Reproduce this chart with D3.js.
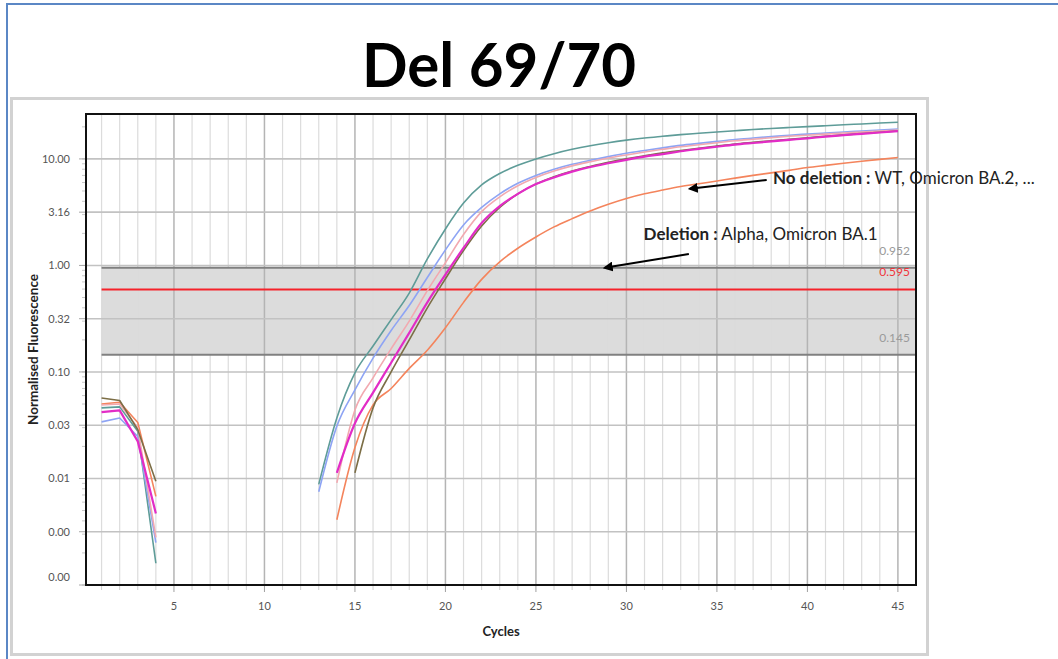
<!DOCTYPE html>
<html>
<head>
<meta charset="utf-8">
<script src="https://cdn.jsdelivr.net/npm/d3@7"></script>
<style>
  body { margin: 0; background: #fff; }
  svg { display: block; font-family: Lato, 'Open Sans', sans-serif; }
</style>
</head>
<body>
<div id="chart"></div>
<script>
// amplification cycles (early baseline part and late exponential part)
const earlyCycles = [1, 2, 3, 4];
const lateCycles = [13, 14, 15, 16, 17, 18, 19, 20, 21, 22, 23, 24, 25, 26, 27, 28, 29,
  30, 31, 32, 33, 34, 35, 36, 37, 38, 39, 40, 41, 42, 43, 44, 45];

// normalised fluorescence per sample
const tealEarly = [0.046, 0.047, 0.0277, 0.0016];
const tealLate = [0.0088, 0.037, 0.098, 0.175, 0.31, 0.55, 1.15, 2.2, 3.85, 5.7, 7.3, 8.7,
  10.0, 11.2, 12.3, 13.3, 14.2, 15.0, 15.7, 16.3, 16.9, 17.4, 17.9, 18.4, 18.9, 19.3, 19.7,
  20.1, 20.5, 20.9, 21.3, 21.7, 22.1];

const blueEarly = [0.034, 0.037, 0.0248, 0.0025];
const blueLate = [0.0075, 0.031, 0.068, 0.135, 0.245, 0.42, 0.77, 1.4, 2.4, 3.5, 4.7, 5.9,
  7.0, 8.0, 8.9, 9.7, 10.5, 11.3, 12.0, 12.7, 13.4, 14.0, 14.6, 15.2, 15.7, 16.2, 16.7,
  17.1, 17.5, 17.9, 18.3, 18.7, 19.1];

const pinkEarly = [0.049, 0.050, 0.030, 0.0028];
const pinkLate = [null, 0.0091, 0.044, 0.088, 0.165, 0.3, 0.58, 1.06, 1.95, 3.2, 4.4, 5.6,
  6.7, 7.7, 8.6, 9.4, 10.2, 10.9, 11.6, 12.3, 13.0, 13.6, 14.2, 14.8, 15.3, 15.8, 16.3,
  16.7, 17.1, 17.5, 17.9, 18.3, 18.7];

const magentaEarly = [0.042, 0.0436, 0.0223, 0.0047];
const magentaLate = [null, 0.0113, 0.033, 0.064, 0.122, 0.233, 0.45, 0.82, 1.46, 2.5, 3.6,
  4.7, 5.8, 6.7, 7.6, 8.4, 9.1, 9.8, 10.5, 11.1, 11.8, 12.4, 13.0, 13.6, 14.1, 14.6, 15.1,
  15.6, 16.2, 16.7, 17.2, 17.7, 18.2];

const oliveEarly = [0.057, 0.054, 0.0287, 0.0094];
const oliveLate = [null, null, 0.0113, 0.046, 0.1, 0.2, 0.4, 0.75, 1.38, 2.35, 3.5, 4.7,
  5.8, 6.8, 7.7, 8.5, 9.3, 10.0, 10.7, 11.4, 12.0, 12.6, 13.2, 13.8, 14.3, 14.8, 15.3,
  15.8, 16.3, 16.8, 17.3, 17.8, 18.3];

const orangeEarly = [0.050, 0.052, 0.0336, 0.0068];
const orangeLate = [null, 0.0041, 0.0195, 0.049, 0.07, 0.108, 0.16, 0.26, 0.45, 0.74, 1.08,
  1.45, 1.85, 2.3, 2.75, 3.25, 3.75, 4.25, 4.7, 5.1, 5.5, 5.85, 6.2, 6.6, 7.0, 7.4, 7.8,
  8.3, 8.7, 9.1, 9.5, 9.9, 10.3];

// thresholds shown on the plot
const thresholdLow = 0.145;
const thresholdHigh = 0.952;
const thresholdCt = 0.595;

// axis ticks
const xTickValues = [5, 10, 15, 20, 25, 30, 35, 40, 45];
const yTickValues = [10, 3.1623, 1, 0.31623, 0.1, 0.031623, 0.01, 0.0031623, 0.001];

// annotations: label text position and arrow ends, in cycles / fluorescence
const annotations = [
  {bold: 'No deletion :', rest: ' WT, Omicron BA.2, ...', tx: 38.1, tv: 5.85,
    from: [37.75, 6.35], to: [33.5, 5.25]},
  {bold: 'Deletion :', rest: ' Alpha, Omicron BA.1', tx: 30.95, tv: 1.72,
    from: [33.45, 1.28], to: [28.8, 0.95]}
];

// series table built from the arrays above (drawing order)
const series = [
  {name: 'orange', color: '#f4845c', w: 1.6, early: orangeEarly, late: orangeLate},
  {name: 'teal', color: '#5e9c98', w: 1.6, early: tealEarly, late: tealLate},
  {name: 'blue', color: '#8ea4f4', w: 1.6, early: blueEarly, late: blueLate},
  {name: 'pink', color: '#f2a9b0', w: 1.6, early: pinkEarly, late: pinkLate},
  {name: 'olive', color: '#7c6e46', w: 1.6, early: oliveEarly, late: oliveLate},
  {name: 'magenta', color: '#e22cc6', w: 2.2, early: magentaEarly, late: magentaLate}
];

let W = 1058;
let H = 659;
let margin = {top: 114, right: 142, bottom: 74, left: 86};
let width = W - margin.left - margin.right;
let height = H - margin.top - margin.bottom;

let svg = d3.select('#chart').append('svg')
  .attr('width', W)
  .attr('height', H);

// slide frame and chart control frame
svg.append('rect')
  .attr('x', 7).attr('y', 4)
  .attr('width', W + 10).attr('height', H + 10)
  .attr('fill', 'none')
  .attr('stroke', '#5b87c5')
  .attr('stroke-width', 2);

svg.append('rect')
  .attr('x', 11.5).attr('y', 98.5)
  .attr('width', 916).attr('height', 556)
  .attr('fill', '#fff')
  .attr('stroke', '#d2d2d2')
  .attr('stroke-width', 3);

// title
svg.append('text')
  .attr('x', 499)
  .attr('y', 87)
  .attr('text-anchor', 'middle')
  .attr('font-size', 62)
  .attr('font-weight', 'bold')
  .attr('textLength', 274)
  .attr('lengthAdjust', 'spacingAndGlyphs')
  .attr('fill', '#000')
  .text('Del 69/70');

let g = svg.append('g')
  .attr('transform', 'translate(' + margin.left + ',' + margin.top + ')');

// scales
let x = d3.scaleLinear().domain([0.14, 46]).range([0, width]);
let y = d3.scaleLog().domain([0.001, 26.4]).range([height, 0]);

// threshold band (starts at cycle 1)
let xStart = x(earlyCycles[0]);
g.append('rect')
  .attr('x', xStart)
  .attr('y', y(thresholdHigh))
  .attr('width', width - xStart)
  .attr('height', y(thresholdLow) - y(thresholdHigh))
  .attr('fill', '#dcdcdc');

// vertical grid: one light line per cycle, darker every 5 cycles
let allCycles = d3.range(1, 46);
g.append('g')
  .selectAll('line')
  .data(allCycles)
  .enter().append('line')
  .attr('x1', d => x(d)).attr('x2', d => x(d))
  .attr('y1', 0).attr('y2', height)
  .attr('stroke', d => d % 5 === 0 ? '#b4b4b4' : '#dcdcdc')
  .attr('stroke-width', d => d % 5 === 0 ? 1.5 : 1.2);

// horizontal grid at half decades
g.append('g')
  .selectAll('line')
  .data(yTickValues.slice(0, -1))
  .enter().append('line')
  .attr('x1', 0).attr('x2', width)
  .attr('y1', d => y(d)).attr('y2', d => y(d))
  .attr('stroke', '#c2c2c2')
  .attr('stroke-width', 1.6);

// threshold lines
g.append('g')
  .selectAll('line')
  .data([thresholdHigh, thresholdLow])
  .enter().append('line')
  .attr('x1', xStart).attr('x2', width)
  .attr('y1', d => y(d)).attr('y2', d => y(d))
  .attr('stroke', '#808080')
  .attr('stroke-width', 2);

g.append('line')
  .attr('x1', xStart).attr('x2', width)
  .attr('y1', y(thresholdCt)).attr('y2', y(thresholdCt))
  .attr('stroke', '#f5222a')
  .attr('stroke-width', 2);

// threshold labels
let thrLabels = [
  {v: thresholdHigh, text: '0.952', color: '#9a9a9a'},
  {v: thresholdCt, text: '0.595', color: '#f0343a'},
  {v: thresholdLow, text: '0.145', color: '#9a9a9a'}
];
g.append('g')
  .selectAll('text')
  .data(thrLabels)
  .enter().append('text')
  .attr('x', width - 6)
  .attr('y', d => y(d.v) - 13)
  .attr('text-anchor', 'end')
  .attr('font-size', 12)
  .attr('fill', d => d.color)
  .text(d => d.text);

// clip curves to the plot area
g.append('clipPath').attr('id', 'plotclip')
  .append('rect').attr('width', width).attr('height', height);

let lineEarly = d3.line()
  .defined(d => d.v != null)
  .x(d => x(d.c))
  .y(d => y(d.v));

let lineLate = d3.line()
  .defined(d => d.v != null)
  .curve(d3.curveMonotoneX)
  .x(d => x(d.c))
  .y(d => y(d.v));

let curves = g.append('g').attr('clip-path', 'url(#plotclip)');
series.forEach(s => {
  let early = earlyCycles.map((c, i) => ({c: c, v: s.early[i]}));
  let late = lateCycles.map((c, i) => ({c: c, v: s.late[i]}));
  curves.append('path')
    .datum(early)
    .attr('fill', 'none')
    .attr('stroke', s.color)
    .attr('stroke-width', s.w)
    .attr('stroke-linejoin', 'round')
    .attr('d', lineEarly);
  curves.append('path')
    .datum(late)
    .attr('fill', 'none')
    .attr('stroke', s.color)
    .attr('stroke-width', s.w)
    .attr('stroke-linejoin', 'round')
    .attr('d', lineLate);
});

// plot frame
g.append('rect')
  .attr('width', width).attr('height', height)
  .attr('fill', 'none')
  .attr('stroke', '#111')
  .attr('stroke-width', 2);

// x axis ticks and labels
g.append('g')
  .selectAll('line')
  .data(allCycles)
  .enter().append('line')
  .attr('x1', d => x(d)).attr('x2', d => x(d))
  .attr('y1', height + 1).attr('y2', d => height + (d % 5 === 0 ? 7 : 5))
  .attr('stroke', d => d % 5 === 0 ? '#a0a0a0' : '#cfcfcf');

g.append('g')
  .selectAll('text')
  .data(xTickValues)
  .enter().append('text')
  .attr('x', d => x(d))
  .attr('y', height + 25)
  .attr('text-anchor', 'middle')
  .attr('font-size', 11)
  .attr('fill', '#555')
  .text(d => d);

// y axis ticks (log minor ticks + half decade majors) and labels
let minorTicks = y.ticks().filter(d => d >= 0.001 && d <= 26.4);
g.append('g')
  .selectAll('line')
  .data(minorTicks)
  .enter().append('line')
  .attr('x1', -4).attr('x2', -1)
  .attr('y1', d => y(d)).attr('y2', d => y(d))
  .attr('stroke', '#c8c8c8');

g.append('g')
  .selectAll('line')
  .data(yTickValues)
  .enter().append('line')
  .attr('x1', -7).attr('x2', -1)
  .attr('y1', d => y(d)).attr('y2', d => y(d))
  .attr('stroke', '#a8a8a8');

let fmt = d3.format('.2f');
g.append('g')
  .selectAll('text')
  .data(yTickValues)
  .enter().append('text')
  .attr('x', -16)
  .attr('y', (d, i) => y(d) + (i === yTickValues.length - 1 ? -8 : 0))
  .attr('dy', '0.35em')
  .attr('text-anchor', 'end')
  .attr('font-size', 11)
  .attr('fill', '#555')
  .text(d => fmt(d));

// axis titles
g.append('text')
  .attr('x', width / 2)
  .attr('y', height + 51)
  .attr('text-anchor', 'middle')
  .attr('font-size', 13)
  .attr('font-weight', 'bold')
  .attr('fill', '#222')
  .text('Cycles');

g.append('text')
  .attr('transform', 'rotate(-90)')
  .attr('x', -height / 2)
  .attr('y', -48)
  .attr('text-anchor', 'middle')
  .attr('font-size', 13.5)
  .attr('font-weight', 'bold')
  .attr('fill', '#222')
  .text('Normalised Fluorescence');

// annotation arrows and labels
svg.append('defs').append('marker')
  .attr('id', 'arrowhead')
  .attr('viewBox', '0 0 10 10')
  .attr('refX', 8).attr('refY', 5)
  .attr('markerWidth', 5).attr('markerHeight', 5)
  .attr('orient', 'auto')
  .append('path')
  .attr('d', 'M0,0 L10,5 L0,10 Z')
  .attr('fill', '#000');

let ann = g.append('g');
ann.selectAll('line')
  .data(annotations)
  .enter().append('line')
  .attr('x1', d => x(d.from[0])).attr('y1', d => y(d.from[1]))
  .attr('x2', d => x(d.to[0])).attr('y2', d => y(d.to[1]))
  .attr('stroke', '#000')
  .attr('stroke-width', 2)
  .attr('marker-end', 'url(#arrowhead)');

let annText = ann.selectAll('text')
  .data(annotations)
  .enter().append('text')
  .attr('x', d => x(d.tx))
  .attr('y', d => y(d.tv))
  .attr('font-size', 17)
  .attr('fill', '#222');
annText.append('tspan').attr('font-weight', 'bold').text(d => d.bold);
annText.append('tspan').text(d => d.rest);
</script>
</body>
</html>
